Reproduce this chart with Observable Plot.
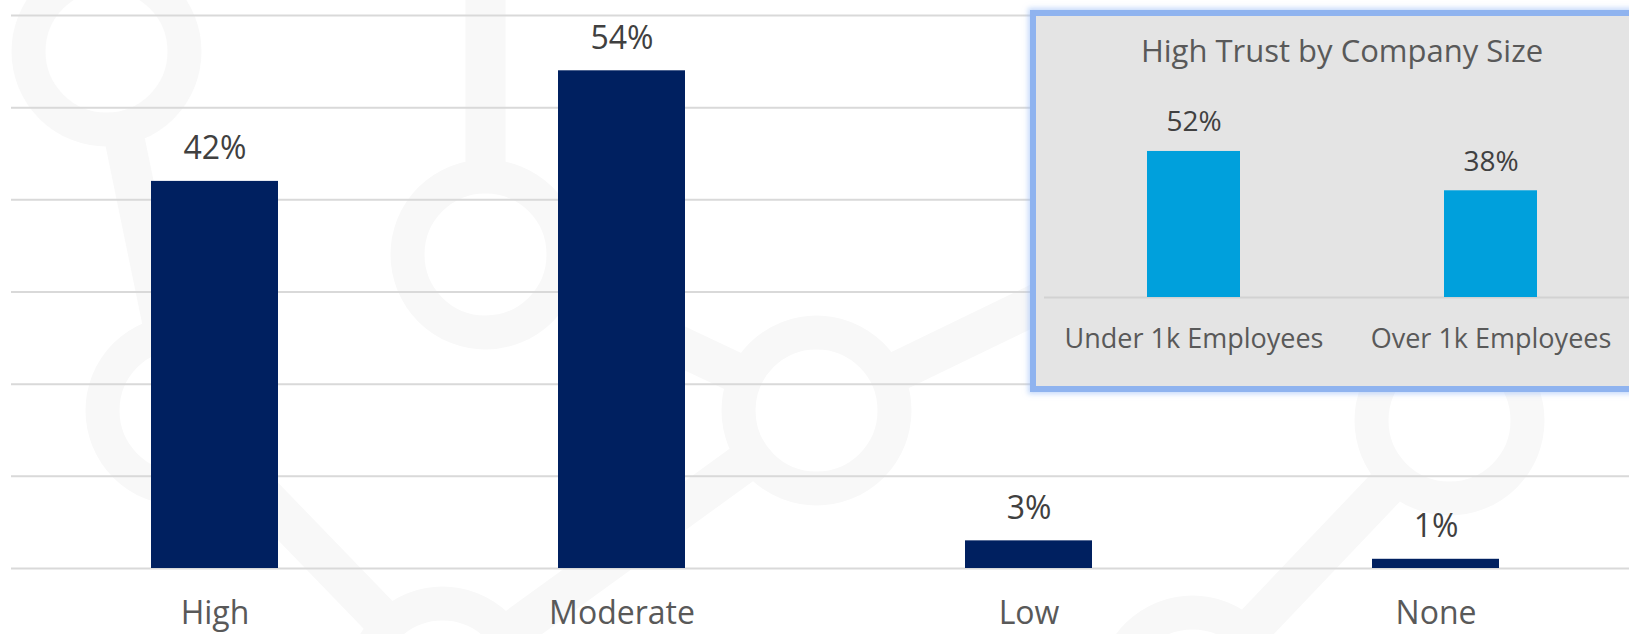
<!DOCTYPE html>
<html>
<head>
<meta charset="utf-8">
<script src="https://cdn.jsdelivr.net/npm/d3@7"></script>
<script src="https://cdn.jsdelivr.net/npm/@observablehq/plot@0.6"></script>
<style>
  html, body { margin: 0; padding: 0; background: #ffffff; overflow: hidden; }
  #stage { position: relative; width: 1629px; height: 634px; overflow: hidden; font-family: "Open Sans", sans-serif; }
  #stage svg { position: absolute; }
  #panel {
    position: absolute; left: 1030px; top: 10px; width: 640px; height: 382px;
    box-sizing: border-box; background: #e4e4e4;
    border: 6px solid #8fb3ef;
    box-shadow: 0 0 5px 2px rgba(150, 185, 245, 0.55);
  }
</style>
</head>
<body>
<div id="stage">
  <div id="backdrop"></div>
  <div id="main"></div>
  <div id="panel"></div>
  <div id="inset"></div>
</div>
<script>
// Overall trust levels
const categories = ["High", "Moderate", "Low", "None"];
const trustShares = [42, 54, 3, 1];
const gridTicks = [0, 10, 20, 30, 40, 50, 60];

// High trust split by company size
const insetTitle = "High Trust by Company Size";
const sizeGroups = ["Under 1k Employees", "Over 1k Employees"];
const highTrustShares = [52, 38];

// Faint network motif behind the chart (node layout in page units)
const motifNodeNames = ["a", "b", "c", "c0", "d", "h", "e", "f", "g"];
const motifNodeX = [106, 180, 485, 485, 816, 1250, 1449, 442, 1192];
const motifNodeY = [51, 410, 254, -140, 410, 200, 420, 681, 690];
const motifLinks = [["a", "b"], ["b", "f"], ["f", "d"], ["c", "d"], ["c", "c0"], ["d", "h"], ["e", "g"]];

const trustRows = categories.map((c, i) => ({category: c, value: trustShares[i]}));
const sizeRows = sizeGroups.map((g, i) => ({group: g, value: highTrustShares[i]}));
const motifNodes = motifNodeNames.map((n, i) => ({name: n, x: motifNodeX[i], y: motifNodeY[i]}));
const nodeByName = new Map(motifNodes.map(n => [n.name, n]));
const motifEdges = motifLinks.map(([s, t]) => ({source: nodeByName.get(s), target: nodeByName.get(t)}));

const pct = d => `${d.value}%`;

// Background motif
const backdrop = Plot.plot({
  width: 1629,
  height: 634,
  margin: 0,
  style: {background: "transparent"},
  x: {domain: [0, 1629], range: [0, 1629], axis: null},
  y: {domain: [0, 634], range: [0, 634], axis: null},
  marks: [
    Plot.link(motifEdges, {
      x1: d => d.source.x, y1: d => d.source.y,
      x2: d => d.target.x, y2: d => d.target.y,
      stroke: "#f8f8f8", strokeWidth: 40
    }),
    Plot.dot(motifNodes, {x: "x", y: "y", r: 78, fill: "#ffffff", stroke: "#f8f8f8", strokeWidth: 34})
  ]
});
backdrop.style.left = "0px";
backdrop.style.top = "0px";
document.getElementById("backdrop").append(backdrop);

const mainChart = Plot.plot({
  width: 1629,
  height: 634,
  marginTop: 15,
  marginBottom: 66,
  marginLeft: 11,
  marginRight: 0,
  style: {fontFamily: "'Open Sans', sans-serif", background: "transparent", overflow: "visible"},
  x: {domain: categories, range: [11, 1639], paddingInner: 0.687, paddingOuter: 0.3435, label: null},
  y: {domain: [0, 60], axis: null},
  marks: [
    Plot.ruleY(gridTicks, {stroke: "#d9d9d9", strokeWidth: 2}),
    Plot.barY(trustRows, {x: "category", y: "value", fill: "#002060"}),
    Plot.text(trustRows, {x: "category", y: "value", text: pct, lineAnchor: "bottom", dy: -22, fontSize: 32, fill: "#404040"}),
    Plot.axisX({tickSize: 0, tickPadding: 33, fontSize: 32, color: "#595959", label: null})
  ]
});
mainChart.style.left = "0px";
mainChart.style.top = "0px";
document.getElementById("main").append(mainChart);

const insetChart = Plot.plot({
  width: 595,
  height: 382,
  marginTop: 118.5,
  marginBottom: 95,
  marginLeft: 0,
  marginRight: 0,
  style: {fontFamily: "'Open Sans', sans-serif", background: "transparent", overflow: "visible"},
  x: {domain: sizeGroups, paddingInner: 0.687, paddingOuter: 0.3435, label: null},
  y: {domain: [0, 60], axis: null},
  marks: [
    Plot.ruleY([0], {stroke: "#d2d2d2", strokeWidth: 2}),
    Plot.barY(sizeRows, {x: "group", y: "value", fill: "#00a0dc"}),
    Plot.text(sizeRows, {x: "group", y: "value", text: pct, lineAnchor: "bottom", dy: -20, fontSize: 28, fill: "#404040"}),
    Plot.text([insetTitle], {frameAnchor: "top", lineAnchor: "bottom", dy: -67, fontSize: 31, fill: "#595959"}),
    Plot.axisX({tickSize: 0, tickPadding: 31, fontSize: 27, color: "#595959", label: null})
  ]
});
insetChart.style.left = "1044px";
insetChart.style.top = "10px";
document.getElementById("inset").append(insetChart);
</script>
</body>
</html>
